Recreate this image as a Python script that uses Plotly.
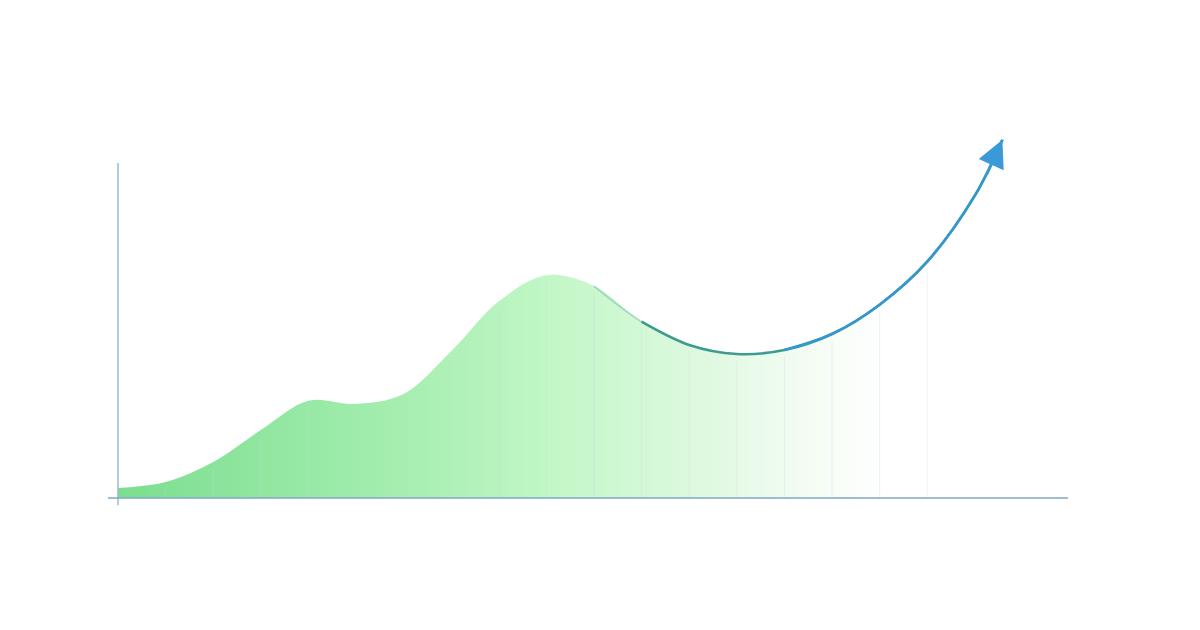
import plotly.graph_objects as go

# growth curve, sampled every 5 units, last point is the arrow tip
x_vals = [0, 5, 10, 15, 20, 25, 30, 35, 40, 45, 50, 55, 60, 65, 70, 75, 80, 85, 90, 92.9]
y_vals = [3.0, 4.8, 10.8, 20.4, 29.2, 28.2, 31.2, 44.0, 59.0, 66.8, 63.6, 52.9, 45.9, 43.2, 44.4, 49.2, 58.0, 70.9, 90.7, 107.5]

# faint drop lines under the curve
drop_x = [5, 10, 15, 20, 25, 30, 35, 40, 45, 50, 55, 60, 65, 70, 75, 80, 85]

SMOOTH = 1.0

fig = go.Figure()

# gradient area
fig.add_trace(go.Scatter(
    x=x_vals, y=y_vals,
    mode="lines",
    line=dict(width=0, shape="spline", smoothing=SMOOTH),
    fill="tozeroy",
    fillgradient=dict(
        type="horizontal",
        colorscale=[
            [0.0, "#7bde8f"],
            [0.32, "#a5eeb0"],
            [0.5, "#c4f7c8"],
            [0.66, "#def9e0"],
            [0.77, "#f2fcf2"],
            [0.87, "#ffffff"],
            [1.0, "#ffffff"],
        ],
    ),
    hoverinfo="skip",
    showlegend=False,
))

# drop lines
dx, dy = [], []
for xv in drop_x:
    yv = y_vals[x_vals.index(xv)]
    dx += [xv, xv, None]
    dy += [0, yv - 2, None]
fig.add_trace(go.Scatter(
    x=dx, y=dy, mode="lines",
    line=dict(color="rgba(200,215,225,0.32)", width=1),
    hoverinfo="skip", showlegend=False,
))

# visible trend line: fades in, teal at the dip, blue on the rise
i50 = x_vals.index(50)
i55 = x_vals.index(55)
i60 = x_vals.index(60)
i70 = x_vals.index(70)
segments = [
    (i50, i60 + 1, "rgba(70,165,140,0.35)", 1.8),
    (i55, len(x_vals), "#3c9c8e", 2.6),
    (i70, len(x_vals), "#3497cf", 2.6),
]
for a, b, col, w in segments:
    fig.add_trace(go.Scatter(
        x=x_vals[a:b], y=y_vals[a:b], mode="lines",
        line=dict(color=col, width=w, shape="spline", smoothing=SMOOTH),
        hoverinfo="skip", showlegend=False,
    ))

# arrow head at the end of the curve
fig.add_annotation(
    x=x_vals[-1], y=y_vals[-1], ax=x_vals[-2] + 1.2, ay=y_vals[-2] + 6,
    xref="x", yref="y", axref="x", ayref="y",
    text="", showarrow=True,
    arrowhead=2, arrowsize=2.1, arrowwidth=2.6, arrowcolor="#3a9ad8",
)

# axis lines
fig.add_shape(type="line", xref="paper", yref="paper",
              x0=0, x1=0, y0=-0.018, y1=0.8375,
              line=dict(color="#93bdd3", width=1.5))
fig.add_shape(type="line", xref="paper", yref="paper",
              x0=-0.0105, x1=0.998, y0=0, y1=0,
              line=dict(color="#7fa8c2", width=1.5))

fig.update_layout(
    width=1184, height=614,
    margin=dict(l=110, r=122, t=90, b=124),
    paper_bgcolor="white",
    plot_bgcolor="white",
    xaxis=dict(range=[0, 100], visible=False),
    yaxis=dict(range=[0, 120], visible=False),
)

fig.write_html("out.html")
